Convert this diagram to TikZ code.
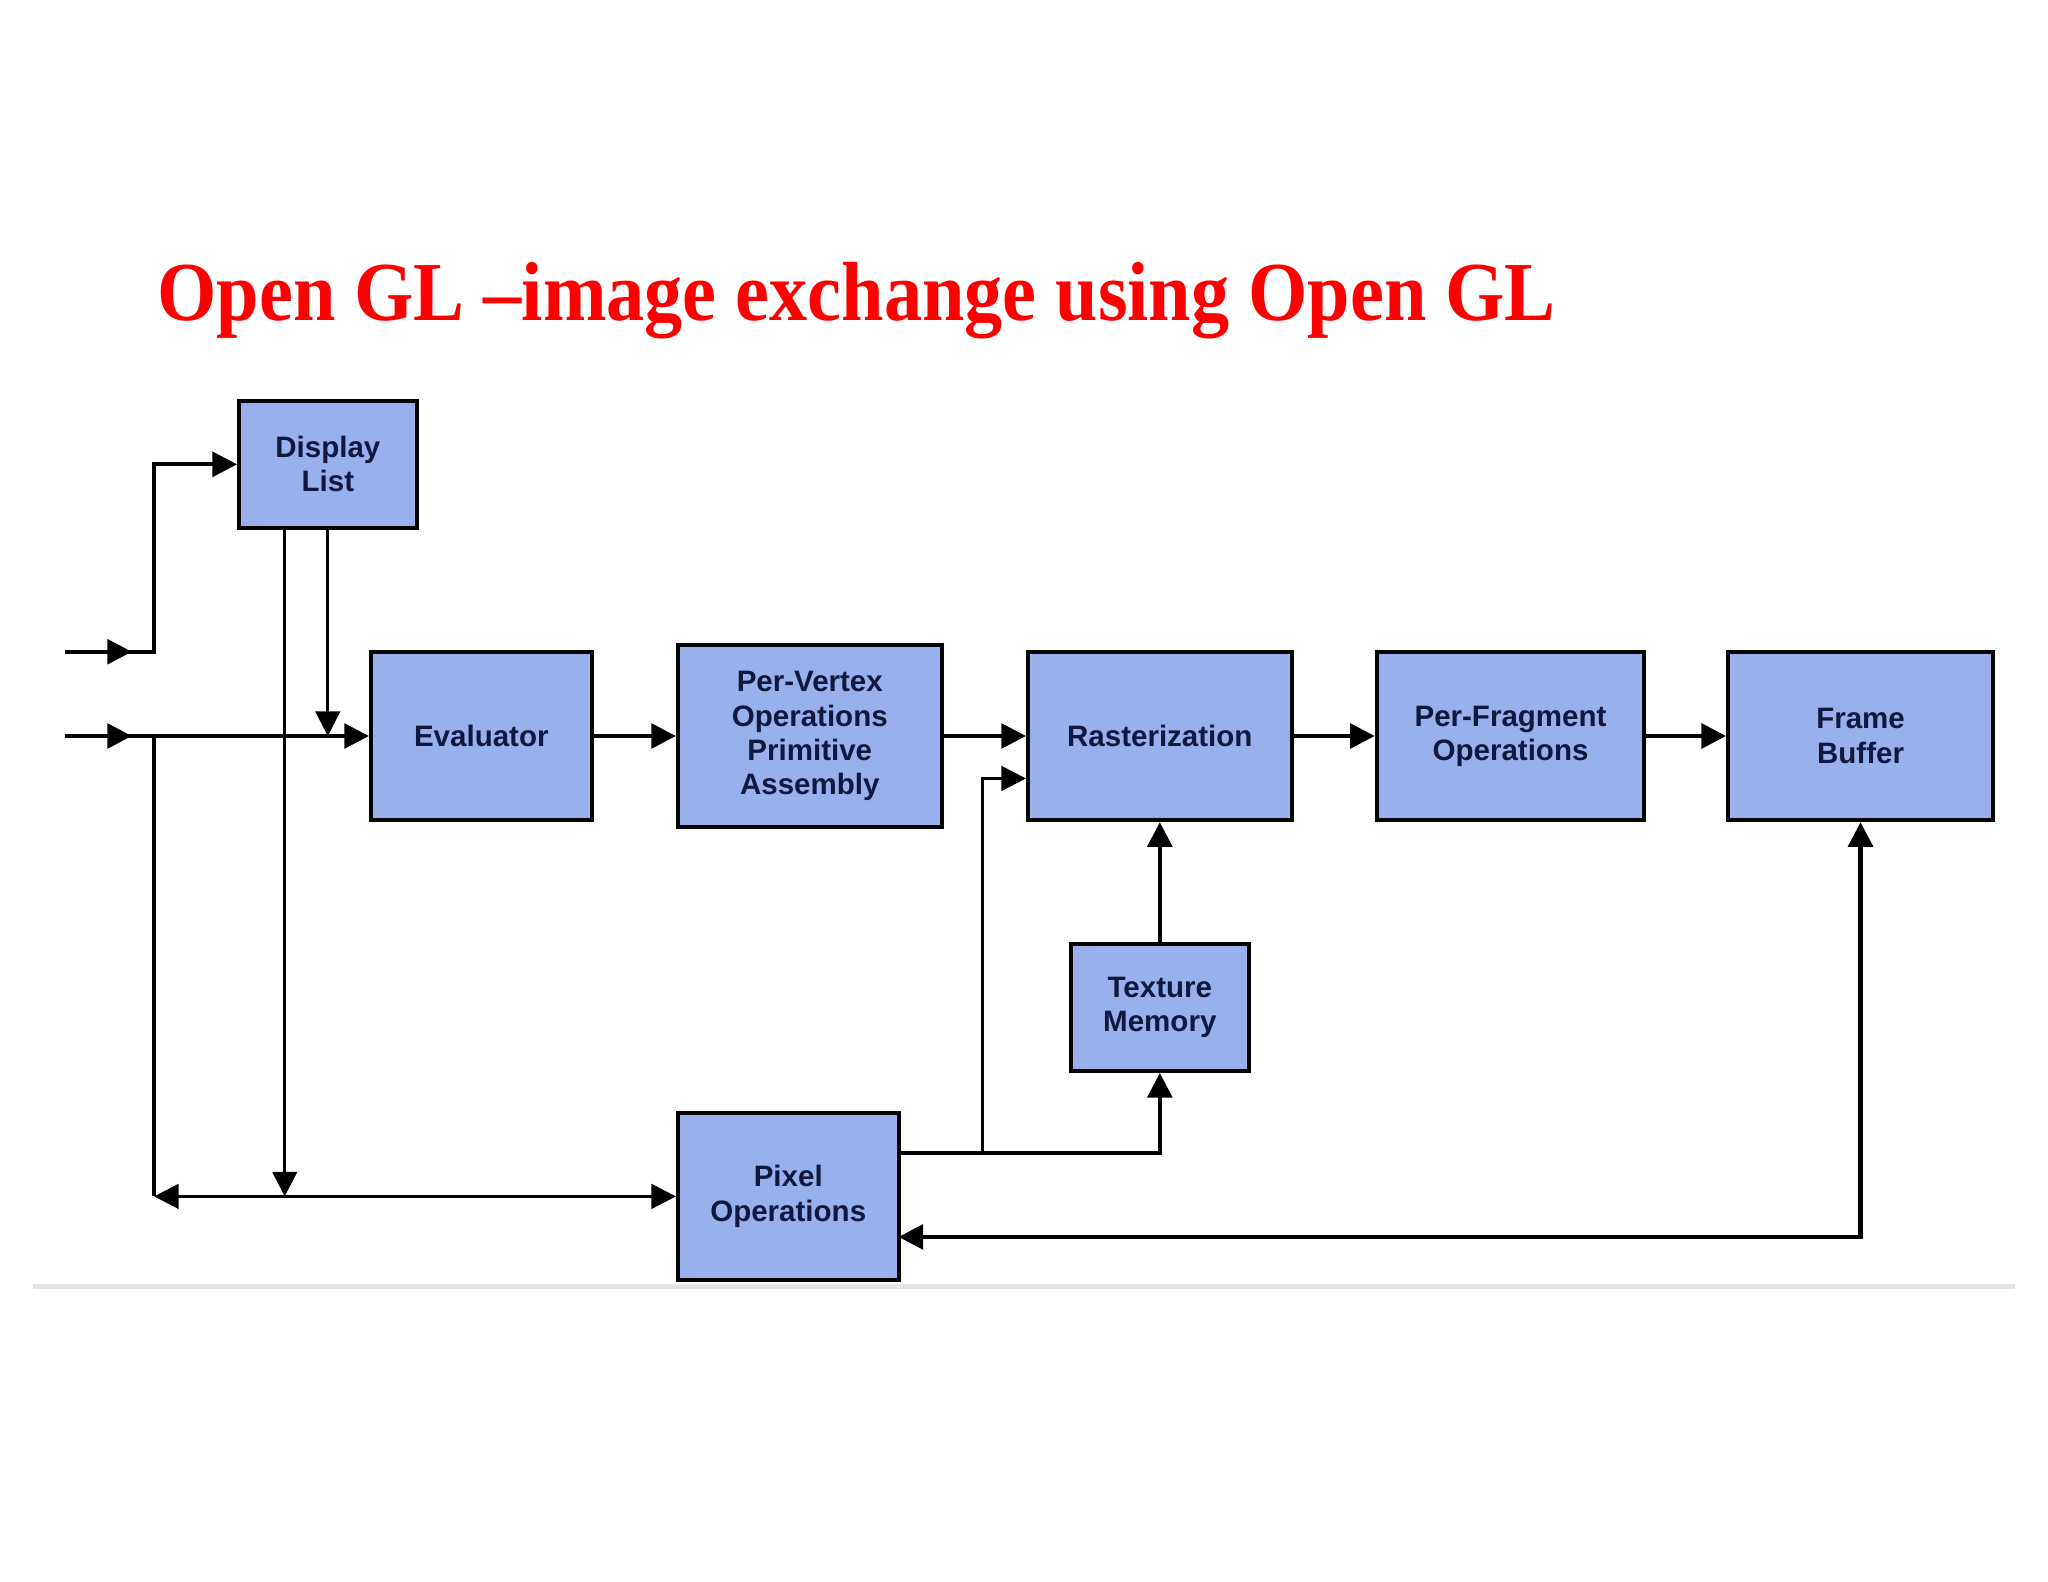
\documentclass[tikz,border=0pt]{standalone}
\usepackage{fontspec}
\setmainfont{Liberation Serif}
\setsansfont{Liberation Sans}
\usetikzlibrary{arrows.meta,calc}
\definecolor{boxblue}{RGB}{152,176,236}
\definecolor{txtnavy}{RGB}{16,24,64}
\definecolor{titlered}{RGB}{255,0,0}
\begin{document}
\begin{tikzpicture}[x=0.01306cm,y=-0.01306cm,
  box/.style 2 args={draw=black, line width=1.1pt, fill=boxblue,
    minimum width=#1*0.01306cm, minimum height=#2*0.01306cm,
    inner sep=0pt, align=center, text=txtnavy,
    font=\sffamily\bfseries\fontsize{8.4}{9.7}\selectfont},
  arr/.style={line width=1.1pt, -{Triangle[length=7pt,width=7pt]}},
  arrthin/.style={line width=0.8pt, -{Triangle[length=7pt,width=7pt]}},
  biarr/.style={line width=#1, {Triangle[length=7pt,width=7pt]}-{Triangle[length=7pt,width=7pt]}},
  plain/.style={line width=1.1pt}]
\useasboundingbox (0,0) rectangle (1568,1211);

% faint screenshot separator
\draw[gray!22, line width=1.2pt] (25,985) -- (1543,985);

% title
\node[anchor=base west, inner sep=0pt, text=titlered,
      font=\bfseries\fontsize{21.7}{26}\selectfont] (title) at (120,245)
      {\scalebox{1}[1.1]{Open GL –image exchange using Open GL}};

% boxes
\node[box={136}{97}]  (dl)   at (251,355.5) {Display\\List};
\node[box={169}{129}] (eval) at (368.5,563.5) {Evaluator};
\node[box={202}{139}] (pv)   at (620,563.5) {Per-Vertex\\Operations\\Primitive\\Assembly};
\node[box={202}{129}] (rast) at (888,563.5) {Rasterization};
\node[box={205}{129}] (pf)   at (1156.5,563.5) {Per-Fragment\\Operations};
\node[box={203}{129}] (fb)   at (1424.5,563.5) {Frame\\Buffer};
\node[box={136}{97}]  (tm)   at (888,771.5) {Texture\\Memory};
\node[box={169}{128}] (po)   at (603.5,916) {Pixel\\Operations};

% helper coordinates
\coordinate (in1)  at (50,499);
\coordinate (in1m) at (101,499);
\coordinate (in1c) at (118,499);
\coordinate (in2)  at (50,563.5);
\coordinate (in2m) at (101,563.5);
\coordinate (j1)   at (118,563.5);
\coordinate (j2)   at (118,916);
\coordinate (dlL)  at (218,404);
\coordinate (dlLb) at (218,916);
\coordinate (po1)  at (688,883);
\coordinate (po2)  at (752,883);
\coordinate (ra1)  at (752,596);
\coordinate (po3)  at (688,947);

% upper input to display list
\draw[arr] (in1) -- (in1c) |- (dl.west);
\draw[arr] (in1) -- (in1m);
% main input
\draw[arr] (in2) -- (eval.west);
\draw[arr] (in2) -- (in2m);
% display list outputs
\draw[arrthin] (dl.south) -- (dl.south |- eval.west);
\draw[arrthin] (dlL) -- (dlLb);
% left branch to pixel ops
\draw[plain] (j1) -- (j2);
\draw[biarr=0.9pt] (j2) -- (po.west);
% pipeline
\draw[arr] (eval.east) -- (pv.west);
\draw[arr] (pv.east) -- (pv.east -| rast.west);
\draw[arr] (rast.east) -- (pf.west);
\draw[arr] (pf.east) -- (fb.west);
% texture
\draw[arr] (tm.north) -- (rast.south);
\draw[arr] (po1) -| (tm.south);
\draw[arrthin] (po2) -- (ra1) -- (ra1 -| rast.west);
% frame buffer to pixel ops
\draw[biarr=1.2pt] (po3) -| (fb.south);
\end{tikzpicture}
\end{document}
